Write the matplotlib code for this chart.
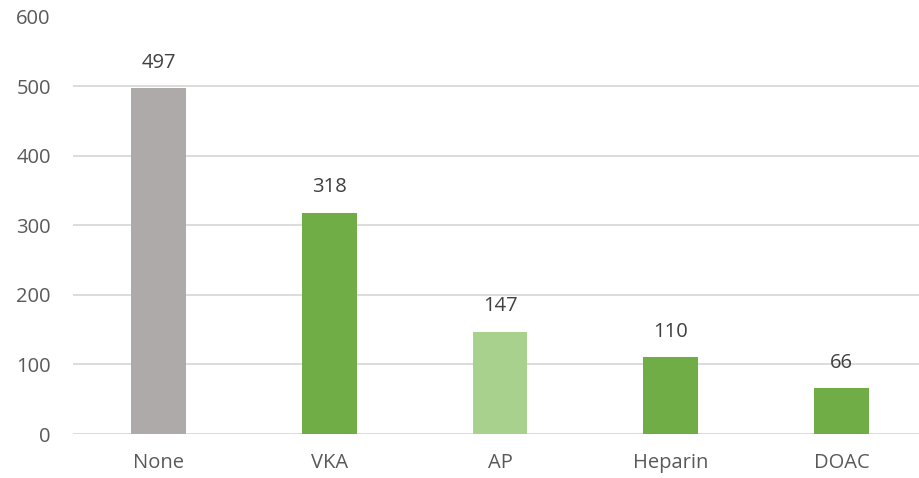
import matplotlib
matplotlib.use("Agg")
import matplotlib.pyplot as plt

categories = ["None", "VKA", "AP", "Heparin", "DOAC"]
values = [497, 318, 147, 110, 66]
colors = ["#AEAAAA", "#70AD47", "#A9D18E", "#70AD47", "#70AD47"]
yticks = [0, 100, 200, 300, 400, 500, 600]

plt.rcParams['font.family'] = ['Open Sans', 'DejaVu Sans']
txt = "#595959"

fig = plt.figure(figsize=(9.2, 4.78), dpi=100)
ax = fig.add_axes([73/920, 1 - 434/478, (927-73)/920, (434-16.5)/478])
x = list(range(len(categories)))
bars = ax.bar(x, values, width=0.32, color=colors, zorder=3)
ax.set_xlim(-0.5, len(categories) - 0.5)
ax.set_ylim(0, 600)
ax.set_yticks(yticks)
ax.set_yticklabels([str(t) for t in yticks])
ax.set_xticks(x)
ax.set_xticklabels(categories)
ax.grid(axis='y', color="#D9D9D9", linewidth=1.3, zorder=0)
for s in ax.spines.values():
    s.set_visible(False)
ax.tick_params(axis='both', length=0, labelsize=14.5, colors=txt)
ax.tick_params(axis='y', pad=16)
ax.tick_params(axis='x', pad=14)
for xi, v in zip(x, values):
    ax.annotate(str(v), (xi, v), xytext=(0, 11), textcoords='offset points',
                ha='center', va='bottom', fontsize=14.5, color="#404040")
fig.savefig("out.png", dpi=100)
